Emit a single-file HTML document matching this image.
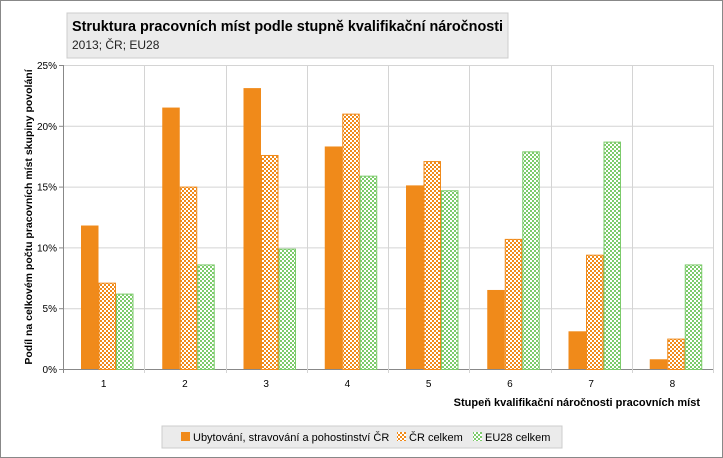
<!DOCTYPE html>
<html><head><meta charset="utf-8"><style>
body{margin:0;background:#fff;}
#wrap{position:relative;width:723px;height:458px;overflow:hidden;}
text{font-family:"Liberation Sans",sans-serif;}
</style></head><body>
<div id="wrap">
<svg id="svg" width="723" height="458" xmlns="http://www.w3.org/2000/svg">
<defs>
<pattern id="pOr" width="4" height="4" patternUnits="userSpaceOnUse"><rect width="4" height="4" fill="#fff"/><rect width="2" height="2" fill="#F08A1A"/><rect x="2" y="2" width="2" height="2" fill="#F08A1A"/></pattern>
<pattern id="pGr" width="4" height="4" patternUnits="userSpaceOnUse"><rect width="4" height="4" fill="#fff"/><rect width="2" height="2" fill="#7CCB6B"/><rect x="2" y="2" width="2" height="2" fill="#7CCB6B"/></pattern>
</defs>
<rect x="0.5" y="0.5" width="722" height="457" fill="#fff" stroke="#888"/>
<g>
<rect x="67" y="13" width="441" height="45" fill="#EBEBEB" stroke="#ccc"/>
<text x="72" y="31" font-size="14.4" font-weight="bold" fill="#000">Struktura pracovních míst podle stupně kvalifikační náročnosti</text>
<text x="72" y="49" font-size="12" fill="#222">2013; ČR; EU28</text>
</g>
<g id="grid"></g>
<g id="bars"></g>
<g id="axes"></g>
<text transform="translate(32,217) rotate(-90)" text-anchor="middle" font-size="10.5" font-weight="bold">Podíl na celkovém počtu pracovních míst skupiny povolání</text>
<text x="700" y="406" text-anchor="end" font-size="11" font-weight="bold">Stupeň kvalifikační náročnosti pracovních míst</text>
<g>
<rect x="162" y="426" width="400" height="22" fill="#EBEBEB" stroke="#ccc"/>
<g><rect x="181" y="432" width="9" height="9" fill="#F08A1A"/><text x="193" y="441" font-size="11">Ubytování, stravování a pohostinství ČR</text></g>
<g><rect x="397" y="432" width="9" height="9" fill="url(#pOr)"/><text x="409" y="441" font-size="11">ČR celkem</text></g>
<g><rect x="473" y="432" width="9" height="9" fill="url(#pGr)"/><text x="485" y="441" font-size="11">EU28 celkem</text></g>
</g>
</svg>
</div>
<script>
const categories=["1","2","3","4","5","6","7","8"];
const ubytovani=[11.8,21.5,23.1,18.3,15.1,6.5,3.1,0.8];
const crCelkem=[7.1,15.0,17.6,21.0,17.1,10.7,9.4,2.5];
const eu28Celkem=[6.2,8.6,9.9,15.9,14.7,17.9,18.7,8.6];
const yTicks=[0,5,10,15,20,25];
const NS="http://www.w3.org/2000/svg";
const X0=63,X1=713,Y0=369,Y1=65,YMAX=25;
const cw=(X1-X0)/categories.length;
const y=v=>Y0-(v/YMAX)*(Y0-Y1);
function mk(tag,attrs,parent){const e=document.createElementNS(NS,tag);for(const k in attrs)e.setAttribute(k,attrs[k]);parent.appendChild(e);return e;}
const grid=document.getElementById('grid'),bars=document.getElementById('bars'),axes=document.getElementById('axes');
yTicks.forEach(t=>{
 const l=mk('line',{x1:X0,x2:X1,y1:y(t)+0.5,y2:y(t)+0.5,stroke:t===0?'#888':'#d4d4d4'},grid);
 
 
 const tx=mk('text',{x:X0-6,y:y(t)+4,'text-anchor':'end','font-size':10},axes);
 tx.textContent=t+'%';
 
 
 mk('line',{x1:X0-4,x2:X0,y1:y(t)+0.5,y2:y(t)+0.5,stroke:'#888'},axes);
});
for(let i=1;i<=categories.length;i++){
 const xx=Math.round(X0+i*cw)+0.5;
 const l=mk('line',{x1:xx,x2:xx,y1:Y1,y2:Y0+4,stroke:'#d4d4d4'},grid);
 
 
}
mk('line',{x1:X0+0.5,x2:X0+0.5,y1:Y1,y2:Y0+4,stroke:'#888'},axes);
const series=[[ubytovani,'#F08A1A','ubytovani','none'],[crCelkem,'url(#pOr)','cr','#F08A1A'],[eu28Celkem,'url(#pGr)','eu28','#7CCB6B']];
const bw=17.5;
categories.forEach((c,i)=>{
 const start=X0+i*cw+18;
 series.forEach((s,j)=>{
  const v=s[0][i];
  const r=mk('rect',{x:start+j*bw+(s[3]==='none'?0:0.5),y:y(v)+(s[3]==='none'?0:0.5),width:bw-(s[3]==='none'?0:1),height:Y0-y(v),fill:s[1],stroke:s[3]},bars);
  
  
 });
 const t=mk('text',{x:X0+(i+0.5)*cw,y:387,'text-anchor':'middle','font-size':10},axes);
 t.textContent=c;
 
 
});
</script>
</body></html>
